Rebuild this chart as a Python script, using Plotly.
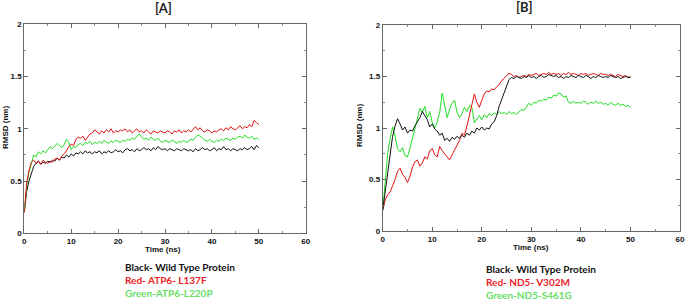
import numpy as np
import plotly.graph_objects as go

# Time axis (ns), sampled every 0.5 ns
time_ns = [i * 0.5 for i in range(101)]

# Panel A – ATP6
a_black = [0.20,0.40,0.50,0.57,0.64,0.67,0.69,0.66,0.68,0.67,
           0.69,0.68,0.70,0.69,0.72,0.70,0.73,0.72,0.75,0.73,
           0.76,0.74,0.77,0.76,0.78,0.76,0.79,0.77,0.78,0.76,
           0.78,0.77,0.79,0.76,0.78,0.77,0.79,0.77,0.78,0.80,
           0.78,0.79,0.77,0.80,0.81,0.79,0.80,0.78,0.81,0.79,
           0.80,0.82,0.80,0.81,0.79,0.82,0.80,0.83,0.81,0.80,
           0.81,0.79,0.81,0.80,0.79,0.81,0.80,0.79,0.81,0.80,
           0.79,0.80,0.78,0.81,0.79,0.80,0.82,0.80,0.81,0.79,
           0.80,0.82,0.79,0.81,0.80,0.83,0.80,0.81,0.79,0.81,
           0.80,0.79,0.81,0.80,0.82,0.80,0.81,0.83,0.80,0.84,
           0.82]
a_red = [0.20,0.48,0.60,0.68,0.70,0.67,0.69,0.66,0.70,0.68,
         0.67,0.69,0.68,0.71,0.72,0.70,0.74,0.76,0.79,0.83,
         0.85,0.84,0.90,0.92,0.91,0.93,0.89,0.92,0.95,0.96,
         0.99,0.97,0.95,0.98,0.96,0.99,0.97,1.00,0.96,0.98,
         0.97,0.99,0.98,1.00,0.97,0.99,0.96,0.98,1.00,0.97,
         0.98,0.96,0.99,0.97,0.95,0.98,0.97,0.96,0.98,0.97,
         0.96,0.98,0.97,0.95,0.98,0.97,0.99,0.96,0.98,0.97,
         0.99,0.97,1.00,1.02,0.99,1.01,0.98,0.97,0.99,0.98,
         0.96,0.98,0.97,0.99,1.00,0.98,1.01,0.99,1.02,1.00,
         0.99,1.01,1.03,1.00,1.02,1.01,1.04,1.02,1.08,1.06,
         1.04]
a_green = [0.22,0.45,0.58,0.66,0.75,0.73,0.78,0.76,0.79,0.77,
           0.80,0.83,0.81,0.84,0.86,0.84,0.82,0.85,0.90,0.87,
           0.80,0.83,0.82,0.85,0.86,0.84,0.87,0.86,0.88,0.85,
           0.87,0.86,0.88,0.86,0.89,0.87,0.86,0.88,0.87,0.89,
           0.88,0.87,0.89,0.88,0.90,0.89,0.91,0.90,0.93,0.95,
           0.92,0.90,0.91,0.89,0.92,0.90,0.89,0.91,0.88,0.87,
           0.89,0.88,0.87,0.89,0.88,0.86,0.88,0.87,0.89,0.87,
           0.88,0.90,0.89,0.92,0.94,0.93,0.91,0.89,0.88,0.90,
           0.88,0.87,0.89,0.88,0.90,0.89,0.91,0.90,0.89,0.91,
           0.90,0.92,0.93,0.91,0.94,0.92,0.91,0.93,0.90,0.91,
           0.90]

# Panel B – ND5
b_black = [0.20,0.38,0.58,0.78,0.92,1.02,1.09,1.04,0.98,1.01,
           0.95,0.98,0.97,1.02,1.06,1.10,1.16,1.12,1.08,1.01,
           1.04,0.99,0.97,0.93,0.95,0.88,0.90,0.87,0.91,0.89,
           0.92,0.90,0.93,0.91,0.95,0.93,0.97,0.95,1.00,0.98,
           1.01,0.98,1.00,0.99,1.04,1.06,1.12,1.21,1.28,1.35,
           1.40,1.47,1.49,1.48,1.50,1.49,1.48,1.50,1.49,1.51,
           1.49,1.50,1.48,1.50,1.51,1.49,1.50,1.52,1.51,1.50,
           1.51,1.49,1.50,1.48,1.50,1.49,1.51,1.50,1.49,1.51,
           1.50,1.49,1.51,1.50,1.48,1.50,1.49,1.51,1.50,1.49,
           1.50,1.49,1.51,1.50,1.49,1.50,1.48,1.49,1.50,1.49,
           1.49]
b_red = [0.20,0.30,0.35,0.38,0.44,0.50,0.58,0.61,0.55,0.52,
         0.47,0.53,0.62,0.67,0.69,0.63,0.66,0.72,0.70,0.78,
         0.80,0.74,0.72,0.82,0.78,0.75,0.71,0.69,0.74,0.79,
         0.84,0.88,0.95,0.93,1.02,1.12,1.22,1.33,1.25,1.20,
         1.27,1.33,1.36,1.35,1.38,1.37,1.40,1.42,1.46,1.48,
         1.51,1.53,1.52,1.50,1.51,1.49,1.50,1.51,1.50,1.52,
         1.51,1.52,1.53,1.51,1.52,1.53,1.52,1.54,1.52,1.53,
         1.52,1.53,1.51,1.53,1.52,1.54,1.52,1.53,1.52,1.51,
         1.53,1.52,1.53,1.51,1.52,1.53,1.52,1.51,1.53,1.52,
         1.52,1.51,1.52,1.51,1.50,1.52,1.51,1.50,1.51,1.49,
         1.50]
b_green = [0.20,0.50,0.75,0.90,1.01,0.92,0.80,0.77,0.81,0.73,
           0.72,0.80,0.90,1.02,1.12,1.19,1.15,1.21,1.10,1.16,
           1.05,1.00,1.06,1.15,1.34,1.22,1.10,1.18,1.24,1.27,
           1.15,1.10,1.14,1.20,1.16,1.22,1.20,1.05,1.09,1.12,
           1.08,1.13,1.10,1.14,1.12,1.15,1.13,1.16,1.14,1.15,
           1.13,1.16,1.14,1.15,1.13,1.16,1.18,1.17,1.21,1.24,
           1.22,1.25,1.24,1.27,1.26,1.28,1.27,1.30,1.29,1.32,
           1.31,1.34,1.33,1.30,1.31,1.25,1.24,1.26,1.24,1.25,
           1.24,1.26,1.25,1.23,1.25,1.24,1.26,1.24,1.25,1.23,
           1.24,1.22,1.25,1.23,1.22,1.24,1.22,1.23,1.21,1.22,
           1.20]

x_ticks = [0, 10, 20, 30, 40, 50, 60]
y_ticks = [0, 0.5, 1, 1.5, 2]
y_tick_text = ["0", "0.5", "1", "1.5", "2"]

panel_titles = ["[A]", "[B]"]
legend_a = ["Black- Wild Type Protein", "Red- ATP6- L137F", "Green-ATP6-L220P"]
legend_b = ["Black- Wild Type Protein", "Red- ND5- V302M", "Green-ND5-S461G"]

LINE_BLACK = "#111111"
LINE_RED = "#e01010"
LINE_GREEN = "#22dd22"
TXT_RED = "#ee1c24"
TXT_GREEN = "#66e066"

W, H = 685, 301

fig = go.Figure()
for ys, col in [(a_black, LINE_BLACK), (a_green, LINE_GREEN), (a_red, LINE_RED)]:
    fig.add_trace(go.Scatter(x=time_ns, y=ys, mode="lines", line=dict(color=col, width=1),
                             xaxis="x", yaxis="y", showlegend=False, hoverinfo="skip"))
for ys, col in [(b_green, LINE_GREEN), (b_red, LINE_RED), (b_black, LINE_BLACK)]:
    fig.add_trace(go.Scatter(x=time_ns, y=ys, mode="lines", line=dict(color=col, width=1),
                             xaxis="x2", yaxis="y2", showlegend=False, hoverinfo="skip"))

tickfont = dict(family="Liberation Sans, Arial", size=8, color="#111", weight="bold")

def xax(domain, anchor):
    return dict(domain=domain, anchor=anchor, range=[0, 60], tickvals=x_ticks,
                ticks="inside", ticklen=4, tickcolor="#666", tickwidth=1,
                minor=dict(dtick=5, ticks="inside", ticklen=2, tickcolor="#888"),
                showline=True, linecolor="#666", linewidth=1, mirror="ticks",
                showgrid=False, zeroline=False, tickfont=tickfont, automargin=False)

def yax(domain, anchor):
    return dict(domain=domain, anchor=anchor, range=[0, 2], tickvals=y_ticks, ticktext=y_tick_text,
                ticks="inside", ticklen=4, tickcolor="#666", tickwidth=1,
                minor=dict(dtick=0.25, ticks="inside", ticklen=2, tickcolor="#888"),
                showline=True, linecolor="#666", linewidth=1, mirror="ticks",
                showgrid=False, zeroline=False, tickfont=tickfont, automargin=False)

def px(x):
    return x / W

def py(y):
    return 1 - y / H

fig.update_layout(
    width=W, height=H, margin=dict(l=0, r=0, t=0, b=0, autoexpand=False),
    paper_bgcolor="white", plot_bgcolor="white",
    xaxis=xax([px(24.3), px(305.7)], "y"),
    yaxis=yax([py(233.3), py(24.3)], "x"),
    xaxis2=xax([px(382.7), px(680)], "y2"),
    yaxis2=yax([py(231), py(25)], "x2"),
)

ann = []
titlefont = dict(family="Lato, Open Sans", size=13, color="#222", weight="bold")
ann.append(dict(text="<b>%s</b>" % panel_titles[0], x=px(163), y=py(8), xref="paper", yref="paper",
                showarrow=False, font=titlefont, xanchor="center", yanchor="middle"))
ann.append(dict(text="<b>%s</b>" % panel_titles[1], x=px(524), y=py(7), xref="paper", yref="paper",
                showarrow=False, font=titlefont, xanchor="center", yanchor="middle"))

axfont = dict(family="Liberation Sans, Arial", size=8, color="#111")
for cx, cy in [(163, 249), (531, 247)]:
    ann.append(dict(text="<b>Time (ns)</b>", x=px(cx), y=py(cy), xref="paper", yref="paper",
                    showarrow=False, font=axfont, xanchor="center", yanchor="middle"))
for cx, cy in [(5, 128), (359, 126)]:
    ann.append(dict(text="<b>RMSD (nm)</b>", x=px(cx), y=py(cy), xref="paper", yref="paper",
                    showarrow=False, font=axfont, textangle=-90, xanchor="center", yanchor="middle"))

legfont_sz = 10
cols = ["#111111", TXT_RED, TXT_GREEN]
for lx, ys0, labels in [(123, [267, 280, 293], legend_a), (484.3, [269, 282, 295], legend_b)]:
    for lab, yy, c in zip(labels, ys0, cols):
        ann.append(dict(text="<b>%s</b>" % lab, x=px(lx), y=py(yy), xref="paper", yref="paper",
                        showarrow=False, xanchor="left", yanchor="middle",
                        font=dict(family="Lato, Open Sans", size=legfont_sz, color=c)))

fig.update_layout(annotations=ann)
fig.write_html("out.html", config={"displayModeBar": False, "staticPlot": True},
               post_script="document.body.style.margin='0';document.body.style.overflow='hidden';")
